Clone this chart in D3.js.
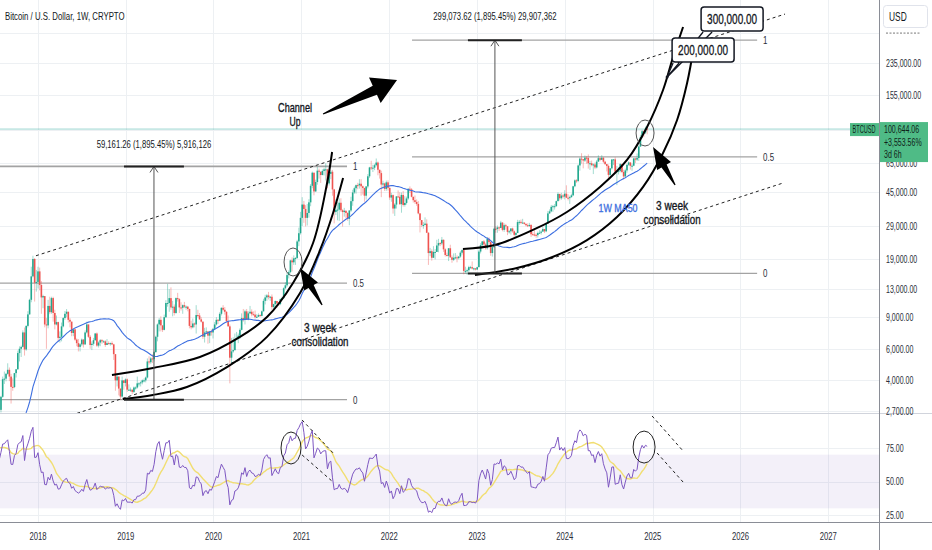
<!DOCTYPE html>
<html>
<head>
<meta charset="utf-8">
<script src="https://cdn.jsdelivr.net/npm/d3@7"></script>
<style>
  html, body { margin: 0; padding: 0; background: #fff; }
  svg { display: block; font-family: "Liberation Sans", Arial, sans-serif; }
</style>
</head>
<body>
<svg id="chart" width="932" height="550"></svg>
<script>
// weekly BTC/USD candles, values in thousands of USD, weeks start on Monday 2017-07-24
var firstWeek = '2017-07-24';

// 50 weeks before the first visible bar, only used to warm up the MA50 and the RSI
var warmupCloses = [0.570, 0.580, 0.570, 0.605, 0.610, 0.608, 0.600, 0.612, 0.617, 0.640, 0.655, 0.700, 0.705,
  0.705, 0.740, 0.730, 0.765, 0.770, 0.790, 0.900, 1.000, 0.900, 0.820, 0.920, 0.920, 1.020, 1.000, 1.050, 1.180, 1.270,
  1.230, 1.020, 0.970, 1.090, 1.200, 1.180, 1.240, 1.350, 1.550, 1.730, 2.050, 2.250, 2.550, 2.950, 2.500, 2.600, 2.500,
  2.500, 1.950, 2.750];

var closes2017 = [2.74, 3.24, 4.06, 4.09, 4.35, 4.58, 4.20, 3.68, 3.67, 4.39, 4.61, 5.68, 6.00, 6.15, 7.40, 5.95, 8.05, 9.33, 11.25, 15.20, 19.00, 14.00, 14.15];
var highs2017 = [2.90, 3.28, 4.20, 4.48, 4.40, 4.98, 4.72, 4.35, 4.10, 4.40, 4.63, 5.86, 6.19, 6.25, 7.60, 7.88, 8.10, 9.72, 11.40, 17.20, 19.80, 19.20, 16.50];
var lows2017 = [2.60, 2.65, 3.20, 3.82, 3.95, 4.30, 3.96, 2.97, 3.50, 3.62, 4.15, 4.60, 5.10, 5.40, 6.10, 5.50, 5.85, 7.90, 9.30, 10.90, 15.00, 11.00, 12.50];

var closes2018 = [16.20, 13.60, 11.60, 11.80, 8.20, 8.10, 10.40, 9.60, 11.50, 9.50, 8.20, 8.45, 6.90, 7.00, 8.00, 8.90, 9.40, 9.65, 8.70, 8.50, 7.35, 7.70, 6.75, 6.45, 6.15, 6.35,
  6.75, 6.35, 7.40, 8.20, 7.00, 6.30, 6.40, 6.70, 7.30, 6.25, 6.50, 6.70, 6.60, 6.60, 6.30, 6.45, 6.40, 6.45, 6.35, 5.60, 4.00, 4.20, 3.60, 3.25, 4.00, 3.87];
var highs2018 = [17.20, 17.00, 14.30, 12.00, 11.80, 8.90, 11.25, 11.70, 11.70, 11.70, 9.90, 9.20, 8.50, 7.50, 8.40, 9.00, 9.75, 9.99, 9.65, 8.90, 8.50, 7.75, 7.75, 6.85, 6.80, 6.45,
  6.85, 6.80, 7.60, 8.50, 8.20, 7.15, 6.60, 6.90, 7.35, 7.40, 6.60, 6.80, 6.80, 6.70, 6.70, 6.80, 6.60, 6.50, 6.60, 6.40, 5.60, 4.40, 4.20, 3.60, 4.20, 4.00];
var lows2018 = [13.00, 12.70, 9.40, 10.10, 7.90, 6.00, 7.80, 9.35, 9.40, 8.50, 7.70, 8.10, 6.60, 6.50, 6.60, 7.90, 8.70, 9.00, 8.40, 7.90, 7.05, 7.05, 6.65, 6.20, 5.80, 5.80,
  6.20, 6.10, 6.30, 7.30, 6.90, 6.00, 5.90, 6.25, 6.65, 6.15, 6.10, 6.20, 6.40, 6.50, 6.15, 6.30, 6.35, 6.25, 6.30, 5.20, 3.50, 3.70, 3.30, 3.12, 3.20, 3.55];

var closes2019 = [4.05, 3.55, 3.55, 3.55, 3.45, 3.65, 3.65, 3.85, 3.85, 3.90, 4.00, 4.00, 4.15, 5.10, 5.05, 5.30, 5.25, 5.75, 7.00, 8.20, 8.70, 8.10, 7.65, 9.00, 10.80, 10.80,
  11.50, 10.20, 10.30, 9.50, 11.50, 11.35, 10.20, 10.15, 10.50, 10.30, 10.30, 10.00, 8.05, 7.90, 8.30, 8.20, 9.25, 9.20, 8.75, 8.50, 7.00, 7.40, 7.50, 7.10, 7.50, 7.40];
var highs2019 = [4.10, 4.10, 3.80, 3.65, 3.55, 3.70, 3.70, 4.20, 3.90, 3.95, 4.05, 4.10, 4.20, 5.30, 5.45, 5.40, 5.60, 5.85, 7.10, 8.30, 8.90, 9.10, 8.10, 9.30, 11.20, 13.80,
  12.90, 13.20, 11.10, 10.60, 11.60, 12.30, 11.50, 10.90, 10.60, 10.95, 10.45, 10.40, 10.05, 8.60, 8.85, 8.40, 10.50, 9.90, 9.50, 9.00, 8.50, 7.85, 7.90, 7.50, 7.55, 7.70];
var lows2019 = [3.70, 3.45, 3.50, 3.45, 3.35, 3.40, 3.55, 3.60, 3.70, 3.70, 3.80, 3.90, 3.90, 4.10, 4.90, 4.95, 5.00, 5.10, 5.70, 6.60, 7.50, 7.50, 7.45, 7.60, 8.90, 10.30,
  9.65, 9.90, 9.10, 9.20, 9.40, 11.00, 9.50, 9.80, 9.40, 10.10, 9.90, 9.70, 7.80, 7.70, 7.80, 7.90, 7.30, 9.00, 8.70, 8.40, 6.80, 6.50, 7.25, 6.40, 6.45, 7.10];

var closes2020 = [7.75, 8.20, 8.70, 8.60, 9.40, 10.15, 9.90, 9.65, 8.55, 8.00, 5.35, 5.80, 5.90, 6.77, 6.86, 7.10, 7.65, 8.90, 8.72, 9.70, 8.72, 9.45, 9.65, 9.35, 9.30, 9.00, 9.05,
  9.25, 9.15, 9.70, 11.10, 11.60, 11.90, 11.65, 11.70, 10.25, 10.65, 11.08, 10.75, 10.65, 11.35, 11.50, 13.05, 13.55, 15.45, 16.05, 18.65, 18.20, 19.15, 19.25, 23.80, 26.45, 32.20];
var highs2020 = [7.85, 8.45, 9.00, 8.80, 9.60, 10.20, 10.50, 10.25, 9.70, 9.20, 8.20, 6.90, 6.95, 7.30, 7.45, 7.30, 7.80, 9.45, 10.00, 9.90, 10.00, 9.70, 10.40, 9.95, 9.70, 9.80, 9.35,
  9.45, 9.35, 9.80, 11.40, 12.00, 12.10, 12.45, 11.80, 12.05, 10.70, 11.15, 11.00, 10.95, 11.45, 11.70, 13.20, 14.10, 15.95, 16.40, 18.80, 19.40, 19.90, 19.45, 24.30, 28.40, 34.80];
var lows2020 = [6.85, 7.65, 8.10, 8.25, 8.55, 9.20, 9.70, 9.30, 8.45, 8.00, 3.85, 4.90, 5.70, 5.85, 6.70, 6.45, 6.80, 7.60, 8.50, 8.20, 8.70, 8.65, 9.40, 9.10, 9.20, 8.85, 8.90,
  9.05, 9.05, 9.10, 9.70, 10.60, 11.10, 11.30, 11.10, 9.90, 9.90, 10.20, 10.15, 10.40, 10.50, 11.20, 11.40, 12.90, 13.30, 14.80, 15.80, 16.20, 17.60, 17.60, 19.00, 22.40, 26.00];

var closes2021 = [38.2, 36.1, 32.2, 34.3, 39.3, 48.6, 57.5, 45.2, 51.0, 59.0, 58.2, 55.8, 58.8, 60.0, 60.0, 50.1, 56.6, 58.2, 46.4, 34.7, 35.7, 35.8, 39.1, 35.5, 34.7, 35.3,
  34.3, 31.8, 35.4, 39.9, 44.6, 47.1, 49.0, 48.9, 49.9, 48.3, 47.3, 42.8, 48.2, 54.9, 61.5, 61.3, 61.3, 63.3, 65.5, 59.7, 57.2, 49.4, 50.1, 46.7, 50.8, 47.3];
var highs2021 = [42.0, 40.0, 37.9, 38.5, 40.9, 49.7, 58.35, 57.5, 52.6, 61.8, 60.6, 58.4, 60.0, 61.2, 64.8, 60.4, 58.5, 59.5, 59.6, 46.7, 40.9, 39.5, 41.3, 41.4, 36.0, 36.6,
  35.1, 34.6, 35.5, 42.2, 46.2, 48.1, 49.4, 50.5, 52.9, 52.9, 48.8, 47.3, 48.4, 56.5, 62.0, 67.0, 63.7, 64.3, 69.0, 66.4, 59.3, 59.0, 51.9, 50.6, 52.0, 52.1];
var lows2021 = [29.0, 30.2, 28.85, 29.2, 32.3, 37.4, 47.1, 43.0, 45.0, 49.3, 53.3, 50.4, 55.6, 55.5, 52.0, 47.0, 48.8, 52.9, 42.8, 30.0, 33.4, 31.2, 31.0, 34.8, 28.8, 32.7,
  32.0, 31.0, 29.3, 34.8, 37.6, 43.8, 43.9, 46.5, 46.9, 42.8, 43.4, 39.6, 40.7, 47.0, 53.8, 59.5, 58.0, 59.4, 62.3, 55.6, 53.3, 42.0, 46.8, 45.5, 45.6, 45.7];

var closes2022 = [41.8, 43.1, 36.3, 38.2, 42.4, 42.2, 38.4, 43.2, 38.0, 39.0, 41.3, 46.8, 46.4, 42.2, 40.4, 39.5, 38.5, 34.1, 31.3, 29.4, 29.4, 29.9, 26.6, 20.5, 21.0, 19.3,
  20.8, 20.8, 22.6, 23.3, 23.2, 24.3, 21.5, 20.0, 19.8, 21.8, 19.4, 18.8, 19.3, 19.4, 19.2, 19.6, 20.6, 21.3, 16.3, 16.3, 16.45, 17.1, 17.1, 16.8, 16.85, 16.6];
var highs2022 = [47.6, 44.4, 43.5, 38.9, 42.6, 45.8, 44.7, 44.6, 45.4, 42.5, 42.3, 47.0, 48.2, 47.2, 41.5, 42.9, 40.8, 40.0, 34.1, 31.3, 30.5, 32.4, 31.6, 26.8, 21.9, 21.5,
  22.4, 21.6, 24.3, 24.6, 23.6, 25.2, 24.4, 21.8, 20.6, 21.8, 22.8, 19.9, 20.4, 20.5, 19.9, 19.7, 21.0, 21.5, 21.4, 17.2, 16.8, 17.4, 17.4, 18.4, 17.0, 16.9];
var lows2022 = [40.6, 39.6, 34.0, 33.0, 36.3, 41.8, 38.0, 34.4, 37.2, 37.2, 38.2, 40.6, 44.3, 41.9, 39.2, 38.6, 37.6, 33.7, 26.7, 28.6, 28.0, 29.3, 26.5, 17.6, 19.7, 18.6,
  19.3, 18.9, 20.8, 20.7, 22.4, 22.7, 20.8, 19.6, 19.6, 18.5, 19.3, 18.1, 18.5, 19.0, 18.2, 18.9, 19.3, 20.1, 15.6, 15.8, 15.5, 16.0, 16.8, 16.6, 16.4, 16.4];

var closes2023 = [17.1, 20.9, 22.7, 23.8, 22.9, 21.8, 24.6, 23.6, 20.5, 22.1, 28.0, 27.9, 28.5, 28.3, 30.3, 27.6, 29.3, 28.9, 26.9, 27.1, 28.1, 27.1, 25.9, 26.5, 30.5, 30.6,
  30.2, 30.3, 29.8, 29.3, 29.0, 29.4, 26.1, 26.0, 25.9, 25.8, 26.5, 26.6, 27.0, 27.9, 27.1, 29.9, 34.1, 35.0, 37.1, 37.4, 37.4, 39.9, 43.8, 41.4, 42.9, 42.3];
var highs2023 = [17.2, 21.4, 23.3, 23.9, 24.2, 23.4, 25.2, 25.1, 23.9, 22.6, 28.4, 28.9, 29.2, 28.8, 31.0, 30.5, 30.0, 29.8, 29.0, 27.6, 28.2, 28.4, 27.4, 26.8, 31.4, 31.3,
  31.5, 31.8, 30.4, 30.0, 30.0, 30.2, 29.7, 26.8, 28.1, 26.4, 27.0, 27.5, 27.5, 28.6, 27.9, 30.3, 35.2, 35.9, 38.0, 38.0, 38.4, 40.2, 44.7, 43.4, 44.4, 43.8];
var lows2023 = [16.5, 17.1, 20.4, 22.3, 22.5, 21.4, 21.4, 22.8, 19.8, 19.6, 21.9, 26.6, 26.6, 27.2, 28.2, 27.1, 26.9, 27.7, 25.8, 26.3, 26.0, 26.6, 25.3, 24.8, 26.5, 29.5,
  29.7, 30.0, 29.5, 28.9, 28.6, 28.7, 25.2, 25.8, 25.4, 24.9, 25.0, 26.2, 26.0, 27.2, 26.5, 26.8, 29.9, 33.9, 34.6, 34.8, 35.8, 37.2, 39.9, 40.2, 40.6, 41.3];

var closes2024 = [43.9, 41.7, 41.6, 42.0, 43.0, 48.3, 52.1, 51.7, 63.1, 68.9, 68.4, 67.2, 69.7, 69.4, 64.9, 64.9, 63.4, 63.9, 61.5, 66.3, 69.3, 67.8, 69.6, 66.2, 64.2,
  62.7, 55.9, 60.8, 68.1, 68.2, 58.2, 58.7, 58.9, 64.2, 58.0, 54.8, 59.2, 63.6, 65.6, 62.8, 62.9, 69.0, 68.0, 69.4, 80.4, 90.6, 97.9, 96.4, 101.2, 100.64406];
var highs2024 = [45.9, 48.9, 43.6, 42.8, 43.9, 48.6, 52.8, 52.9, 64.0, 69.9, 73.8, 68.4, 71.7, 71.3, 72.7, 66.9, 67.2, 64.7, 65.5, 67.7, 71.9, 70.0, 72.0, 70.2, 66.9,
  63.3, 63.8, 61.0, 68.4, 68.5, 70.0, 62.7, 61.6, 65.0, 64.5, 59.8, 60.6, 64.1, 66.5, 64.5, 64.5, 69.4, 69.5, 73.6, 81.5, 93.5, 99.6, 98.9, 104.0, 101.9];
var lows2024 = [40.8, 41.5, 40.3, 38.5, 41.8, 42.6, 47.7, 50.5, 50.9, 59.0, 64.6, 60.8, 66.0, 64.5, 60.6, 59.6, 62.4, 56.5, 60.2, 60.7, 66.1, 66.6, 68.4, 65.0, 63.4,
  58.4, 53.5, 54.3, 59.8, 63.4, 57.3, 49.0, 56.2, 57.8, 57.2, 52.6, 54.6, 57.5, 62.7, 59.8, 58.9, 62.5, 65.1, 66.8, 66.8, 80.2, 89.4, 90.8, 94.5, 94.1];

// price axis: gridlines at every tick, labels where TradingView shows them
var priceTicks = [345000, 235000, 155000, 100000, 65000, 45000, 29000, 19000, 13000, 9000, 6000, 4000, 2700];
var priceLabels = [235000, 155000, 65000, 45000, 29000, 19000, 13000, 9000, 6000, 4000, 2700];
var rsiTicks = [75, 50, 25];
var lastLabel = ['100,644.06', '+3,553.56%', '3d 6h'];

var kilo = function (v) { return v * 1000; };
var closes = [].concat(closes2017, closes2018, closes2019, closes2020, closes2021, closes2022, closes2023, closes2024).map(kilo);
var highs = [].concat(highs2017, highs2018, highs2019, highs2020, highs2021, highs2022, highs2023, highs2024).map(kilo);
var lows = [].concat(lows2017, lows2018, lows2019, lows2020, lows2021, lows2022, lows2023, lows2024).map(kilo);
var allCloses = warmupCloses.map(kilo).concat(closes);
var nWarm = warmupCloses.length;

var start = d3.utcParse('%Y-%m-%d')(firstWeek);
var bars = closes.map(function (c, i) {
  var o = i ? closes[i - 1] : allCloses[nWarm - 1];
  return {
    date: d3.utcMonday.offset(start, i), open: o, close: c,
    high: Math.max(highs[i], o, c), low: Math.min(lows[i], o, c)
  };
});

// 50 week simple moving average
var ma50 = bars.map(function (b, i) {
  var k = nWarm + i;
  return { date: b.date, value: d3.mean(allCloses.slice(k - 49, k + 1)) };
});

// RSI 14 (Wilder) and its 14 SMA
var rsiAll = [];
var ag = 0, al = 0;
for (var k = 1; k < allCloses.length; k++) {
  var ch = allCloses[k] - allCloses[k - 1];
  var g = Math.max(ch, 0), l = Math.max(-ch, 0);
  if (k <= 14) {
    ag += g / 14; al += l / 14;
  } else {
    ag = (ag * 13 + g) / 14; al = (al * 13 + l) / 14;
  }
  rsiAll[k] = k >= 14 ? 100 - 100 / (1 + ag / al) : null;
}
var rsi = bars.map(function (b, i) { return { date: b.date, value: rsiAll[nWarm + i] }; });
var rsiMa = bars.map(function (b, i) {
  var k = nWarm + i;
  return { date: b.date, value: d3.mean(rsiAll.slice(k - 13, k + 1)) };
});

// ---------- layout ----------
var plotR = 879, mainB = 413, rsiB = 522;
var svg = d3.select('#chart');

var x = d3.scaleUtc()
  .domain([new Date(Date.UTC(2018, 0, 1)), new Date(Date.UTC(2027, 0, 1))])
  .range([38, 828.2]);
var y = d3.scaleLog().domain([235000, 2700]).range([63, 411]);
var yr = d3.scaleLinear().domain([75, 25]).range([448, 515]);

// year fraction -> date, for the hand drawn annotations
function T(t) {
  var yy = Math.floor(t);
  var a = Date.UTC(yy, 0, 1), b = Date.UTC(yy + 1, 0, 1);
  return new Date(a + (t - yy) * (b - a));
}
function P(t, price) { return [x(T(t)), y(price)]; }
function R(t, v) { return [x(T(t)), yr(v)]; }

// the screenshot is squeezed horizontally, so squeeze the glyphs round their anchor
function squeeze(sel, k) {
  sel.each(function () {
    var ax = +this.getAttribute('x');
    this.setAttribute('transform', 'translate(' + ax + ',0) scale(' + k + ',1) translate(' + (-ax) + ',0)');
  });
}
function fitTo(sel, w) {
  sel.each(function () {
    d3.select(this).call(squeeze, w / this.getComputedTextLength());
  });
}

var defs = svg.append('defs');
defs.append('clipPath').attr('id', 'clipMain')
  .append('rect').attr('x', 0).attr('y', 0).attr('width', plotR).attr('height', mainB);
defs.append('clipPath').attr('id', 'clipRsi')
  .append('rect').attr('x', 0).attr('y', mainB + 1).attr('width', plotR).attr('height', rsiB - mainB - 1);

// ---------- grid ----------
var grid = svg.append('g').attr('stroke', '#edf0f3').attr('stroke-width', 1);
x.ticks(d3.utcYear.every(1)).forEach(function (d) {
  grid.append('line').attr('x1', Math.round(x(d)) + 0.5).attr('x2', Math.round(x(d)) + 0.5)
    .attr('y1', 0).attr('y2', rsiB);
});
priceTicks.forEach(function (p) {
  grid.append('line').attr('x1', 0).attr('x2', plotR).attr('y1', Math.round(y(p)) + 0.5).attr('y2', Math.round(y(p)) + 0.5);
});
rsiTicks.forEach(function (v) {
  grid.append('line').attr('x1', 0).attr('x2', plotR).attr('y1', Math.round(yr(v)) + 0.5).attr('y2', Math.round(yr(v)) + 0.5);
});

// RSI band 70 / 30
svg.append('rect').attr('x', 0).attr('width', plotR)
  .attr('y', yr(70)).attr('height', yr(30) - yr(70))
  .attr('fill', 'rgba(126,87,194,0.09)');

var main = svg.append('g').attr('clip-path', 'url(#clipMain)');

// ---------- fib retracements ----------
function fib(g, t0, t1, lo, hi, topWidth) {
  var levels = [[1, hi], [0.5, Math.sqrt(lo * hi)], [0, lo]];
  levels.forEach(function (lv) {
    var yy = y(lv[1]);
    g.append('line').attr('x1', x(T(t0))).attr('x2', x(T(t1))).attr('y1', yy).attr('y2', yy)
      .attr('stroke', '#a3a3a3').attr('stroke-width', lv[0] === 1 ? topWidth : 1.2);
    g.append('text').attr('x', x(T(t1)) + 6).attr('y', yy + 4)
      .attr('font-size', 11).attr('fill', '#2a2e39').text(lv[0])
      .call(squeeze, 0.72);
  });
}
fib(main, 2017.3, 2021.519, 3121.2, 62282.5, 1.8);
fib(main, 2022.26, 2026.19, 15778.3, 314852, 1.2);

// ---------- channel up ----------
var dashed = main.append('g').attr('stroke', '#222').attr('stroke-width', 1).attr('stroke-dasharray', '3,3');
[[[2017.977, 19800], [2026.508, 440400]], [[2018.25, 2440], [2026.485, 50360]]].forEach(function (s) {
  var a = P(s[0][0], s[0][1]), b = P(s[1][0], s[1][1]);
  dashed.append('line').attr('x1', a[0]).attr('y1', a[1]).attr('x2', b[0]).attr('y2', b[1]);
});

// last price line
main.append('line').attr('x1', 0).attr('x2', plotR)
  .attr('y1', y(closes[closes.length - 1])).attr('y2', y(closes[closes.length - 1]))
  .attr('stroke', 'rgba(38,166,154,0.45)').attr('stroke-width', 1);

// ---------- candles ----------
var up = '#22a88f', down = '#ef5350';
var candles = main.append('g');
candles.selectAll('line').data(bars).join('line')
  .attr('x1', function (d) { return x(d.date); }).attr('x2', function (d) { return x(d.date); })
  .attr('y1', function (d) { return y(d.high); }).attr('y2', function (d) { return y(d.low); })
  .attr('stroke', function (d) { return d.close >= d.open ? up : down; })
  .attr('stroke-width', 0.7).attr('stroke-opacity', 0.6);
candles.selectAll('rect').data(bars).join('rect')
  .attr('x', function (d) { return x(d.date) - 0.8; }).attr('width', 1.6)
  .attr('y', function (d) { return y(Math.max(d.open, d.close)); })
  .attr('height', function (d) { return Math.max(1, y(Math.min(d.open, d.close)) - y(Math.max(d.open, d.close))); })
  .attr('fill', function (d) { return d.close >= d.open ? up : down; });

// MA50
main.append('path').datum(ma50)
  .attr('d', d3.line().x(function (d) { return x(d.date); }).y(function (d) { return y(d.value); }))
  .attr('fill', 'none').attr('stroke', '#3d6fe0').attr('stroke-width', 1.1);

// ---------- parabolic curves ----------
var curveLine = d3.line().curve(d3.curveCatmullRom.alpha(0.5));
var curves = [
  [[2018.843, 4290], [2019.310, 4690], [2019.845, 5400], [2020.301, 6990], [2020.608, 9020], [2020.904, 13970], [2021.132, 23330], [2021.292, 50400], [2021.349, 75000]],
  [[2018.968, 3150], [2019.310, 3315], [2019.697, 3675], [2020.153, 4746], [2020.608, 6990], [2020.984, 12280], [2021.212, 21320], [2021.360, 34290], [2021.474, 53720]],
  [[2022.840, 21600], [2023.205, 22720], [2023.638, 27570], [2024.025, 34730], [2024.401, 47880], [2024.708, 67680], [2024.936, 103400], [2025.118, 166200], [2025.232, 253800], [2025.346, 373000]],
  [[2022.977, 15470], [2023.455, 16930], [2023.831, 19230], [2024.253, 24230], [2024.594, 32570], [2024.891, 47880], [2025.118, 74030], [2025.278, 113100], [2025.392, 181800], [2025.472, 296000]]
];
curves.forEach(function (c) {
  main.append('path').attr('d', curveLine(c.map(function (d) { return P(d[0], d[1]); })))
    .attr('fill', 'none').attr('stroke', '#000').attr('stroke-width', 2);
});

// consolidation circles
[[2020.904, 18280, 9, 14], [2024.913, 95700, 9, 13]].forEach(function (c) {
  var p = P(c[0], c[1]);
  main.append('ellipse').attr('cx', p[0]).attr('cy', p[1]).attr('rx', c[2]).attr('ry', c[3])
    .attr('fill', 'none').attr('stroke', '#555').attr('stroke-width', 1);
});

// tapered arrows
function arrow(g, tail, tip, head, shaft, wing) {
  var dx = tip[0] - tail[0], dy = tip[1] - tail[1], L = Math.hypot(dx, dy);
  var ux = dx / L, uy = dy / L, nx = -uy, ny = ux, b = L * (1 - head);
  var pt = function (a, s) { return [tail[0] + ux * a + nx * s, tail[1] + uy * a + ny * s]; };
  var pts = [pt(0, 0.6), pt(b, shaft), pt(b, wing), tip, pt(b, -wing), pt(b, -shaft), pt(0, -0.6)];
  g.append('path').attr('d', 'M' + pts.join('L') + 'Z').attr('fill', '#000');
}
arrow(main, P(2021.246, 122100), P(2022.089, 188900), 0.3, 5, 14);
arrow(main, P(2021.235, 10525), P(2020.984, 16930), 0.5, 3, 8);
arrow(main, P(2025.255, 49090), P(2025.004, 79950), 0.5, 3, 8);

// ---------- texts on the chart ----------
function note(g, p, lines, widths, size, color) {
  lines.forEach(function (s, i) {
    g.append('text').attr('x', p[0]).attr('y', p[1] + 4 + i * 14).attr('text-anchor', 'middle')
      .attr('font-size', size).attr('fill', color).attr('stroke', color).attr('stroke-width', 0.35)
      .text(s).call(fitTo, widths[i]);
  });
}
note(main, P(2020.927, 131900), ['Channel', 'Up'], [34, 11], 12.5, '#131722');
note(main, P(2021.212, 7835), ['3 week', 'consolidation'], [32, 57], 12.5, '#131722');
note(main, P(2025.221, 37500), ['3 week', 'consolidation'], [32, 57], 12.5, '#131722');
note(main, P(2024.606, 36540), ['1W MA50'], [39], 11.5, '#3d6fe0');

// ---------- measure tool ----------
function measure(g, t0, t1, lo, hi, label, dy) {
  var tm = (t0 + t1) / 2, xm = x(T(tm)), yt = y(hi), yb = y(lo);
  g.append('line').attr('x1', xm).attr('x2', xm).attr('y1', yt).attr('y2', yb).attr('stroke', '#555').attr('stroke-width', 1);
  g.append('path').attr('d', 'M' + (xm - 4) + ',' + (yt + 6) + 'L' + xm + ',' + yt + 'L' + (xm + 4) + ',' + (yt + 6))
    .attr('fill', 'none').attr('stroke', '#555').attr('stroke-width', 1);
  [yt, yb].forEach(function (yy) {
    g.append('line').attr('x1', x(T(t0))).attr('x2', x(T(t1))).attr('y1', yy).attr('y2', yy)
      .attr('stroke', '#222').attr('stroke-width', 2);
  });
  g.append('text').attr('x', xm).attr('y', yt + dy).attr('text-anchor', 'middle')
    .attr('font-size', 11).attr('fill', '#131722').text(label).call(squeeze, 0.7);
}
measure(main, 2018.98, 2019.663, 3121.2, 62282.5, '59,161.26 (1,895.45%) 5,916,126', -18);
measure(main, 2022.897, 2023.512, 15778.3, 314852, '299,073.62 (1,895.45%) 29,907,362', -20);

// ---------- callouts ----------
var anchor = P(2025.164, 196400);
function callout(g, box, tail, label) {
  var ax = anchor[0], ay = anchor[1];
  g.append('path')
    .attr('d', 'M' + (ax + tail[0]) + ',' + (ay + tail[1]) + 'L' + ax + ',' + ay + 'L' + (ax + tail[2]) + ',' + (ay + tail[3]))
    .attr('fill', '#fff').attr('stroke', '#131722').attr('stroke-width', 1.3);
  g.append('rect').attr('x', ax + box[0]).attr('y', ay + box[1]).attr('width', box[2]).attr('height', box[3])
    .attr('rx', 3).attr('fill', '#fff').attr('stroke', '#131722').attr('stroke-width', 1.5);
  g.append('text').attr('x', ax + box[0] + box[2] / 2).attr('y', ay + box[1] + box[3] / 2 + 4.8)
    .attr('text-anchor', 'middle').attr('font-size', 14).attr('fill', '#131722')
    .attr('stroke', '#131722').attr('stroke-width', 0.3).text(label)
    .call(fitTo, 50);
}
main.append('circle').attr('cx', anchor[0]).attr('cy', anchor[1]).attr('r', 1.5).attr('fill', '#131722');
callout(main, [34, -70, 62, 24], [36, -45, 45, -45], '300,000.00');
callout(main, [5, -39, 62, 24], [6, -14, 12, -14], '200,000.00');

// ---------- RSI pane ----------
var rsiG = svg.append('g').attr('clip-path', 'url(#clipRsi)');
var rline = d3.line().x(function (d) { return x(d.date); }).y(function (d) { return yr(d.value); });
rsiG.append('path').datum(rsiMa).attr('d', rline).attr('fill', 'none').attr('stroke', '#f1de72').attr('stroke-width', 1.4);
rsiG.append('path').datum(rsi).attr('d', rline).attr('fill', 'none').attr('stroke', '#7e57c2').attr('stroke-width', 1);

[[2020.881, 75, 10, 16], [2024.902, 75.7, 11, 16]].forEach(function (c) {
  var p = R(c[0], c[1]);
  rsiG.append('ellipse').attr('cx', p[0]).attr('cy', p[1]).attr('rx', c[2]).attr('ry', c[3])
    .attr('fill', 'none').attr('stroke', '#222').attr('stroke-width', 1);
});
[[[2021.007, 95.9], [2021.360, 71.3]], [[2021.007, 69.8], [2021.360, 49.6]],
  [[2024.993, 98.9], [2025.346, 72.8]], [[2025.050, 71.3], [2025.346, 49.6]]].forEach(function (s) {
  var a = R(s[0][0], s[0][1]), b = R(s[1][0], s[1][1]);
  rsiG.append('line').attr('x1', a[0]).attr('y1', a[1]).attr('x2', b[0]).attr('y2', b[1])
    .attr('stroke', '#222').attr('stroke-width', 1).attr('stroke-dasharray', '3,3');
});

// ---------- frame, axes ----------
svg.append('rect').attr('x', plotR).attr('y', 0).attr('width', 932 - plotR).attr('height', 550).attr('fill', '#fff');
svg.append('rect').attr('x', 0).attr('y', rsiB).attr('width', 932).attr('height', 550 - rsiB).attr('fill', '#fff');
svg.append('line').attr('x1', 0).attr('x2', 932).attr('y1', mainB + 0.5).attr('y2', mainB + 0.5).attr('stroke', '#d1d4dc');
svg.append('line').attr('x1', 0).attr('x2', 932).attr('y1', rsiB + 0.5).attr('y2', rsiB + 0.5).attr('stroke', '#8a8d96');
svg.append('line').attr('x1', plotR + 0.5).attr('x2', plotR + 0.5).attr('y1', 0).attr('y2', 550).attr('stroke', '#8a8d96');

var axisG = svg.append('g').attr('font-size', 10.5).attr('fill', '#2a2e39');
priceLabels.forEach(function (p) {
  axisG.append('text').attr('x', 886).attr('y', y(p) + 4).text(d3.format(',.2f')(p)).call(squeeze, 0.67);
});
rsiTicks.forEach(function (v) {
  axisG.append('text').attr('x', 886).attr('y', yr(v) + 4).text(d3.format('.2f')(v)).call(squeeze, 0.67);
});
x.ticks(d3.utcYear.every(1)).forEach(function (d) {
  axisG.append('text').attr('x', x(d)).attr('y', 540).attr('text-anchor', 'middle').attr('font-size', 11)
    .text(d3.utcFormat('%Y')(d)).call(squeeze, 0.7);
});
svg.append('line').attr('x1', 886).attr('x2', 921).attr('y1', y(345000)).attr('y2', y(345000))
  .attr('stroke', '#777').attr('stroke-dasharray', '2,1.5');

// currency box
svg.append('rect').attr('x', 883.5).attr('y', 5.5).attr('width', 44).attr('height', 22).attr('rx', 3)
  .attr('fill', '#fff').attr('stroke', '#e0e3eb');
svg.append('text').attr('x', 889).attr('y', 21).attr('font-size', 12).attr('fill', '#131722').text('USD').call(squeeze, 0.7);

// last price labels
var lastY = y(closes[closes.length - 1]);
var green = '#4fbb86';
svg.append('rect').attr('x', 850).attr('y', lastY - 6).attr('width', 29).attr('height', 13).attr('fill', green);
svg.append('text').attr('x', 852.5).attr('y', lastY + 4).attr('font-size', 10).attr('fill', '#10231a').text('BTCUSD').call(fitTo, 23);
svg.append('rect').attr('x', 880).attr('y', lastY - 7).attr('width', 48).attr('height', 40).attr('fill', green);
lastLabel.forEach(function (s, i) {
  svg.append('text').attr('x', 884).attr('y', lastY + 4 + i * 12.5).attr('font-size', 10.5).attr('fill', '#10231a')
    .text(s).call(squeeze, 0.67);
});

// title
svg.append('text').attr('x', 5).attr('y', 20).attr('font-size', 11.5).attr('fill', '#131722')
  .text('Bitcoin / U.S. Dollar, 1W, CRYPTO').call(squeeze, 0.68);
</script>
</body>
</html>
